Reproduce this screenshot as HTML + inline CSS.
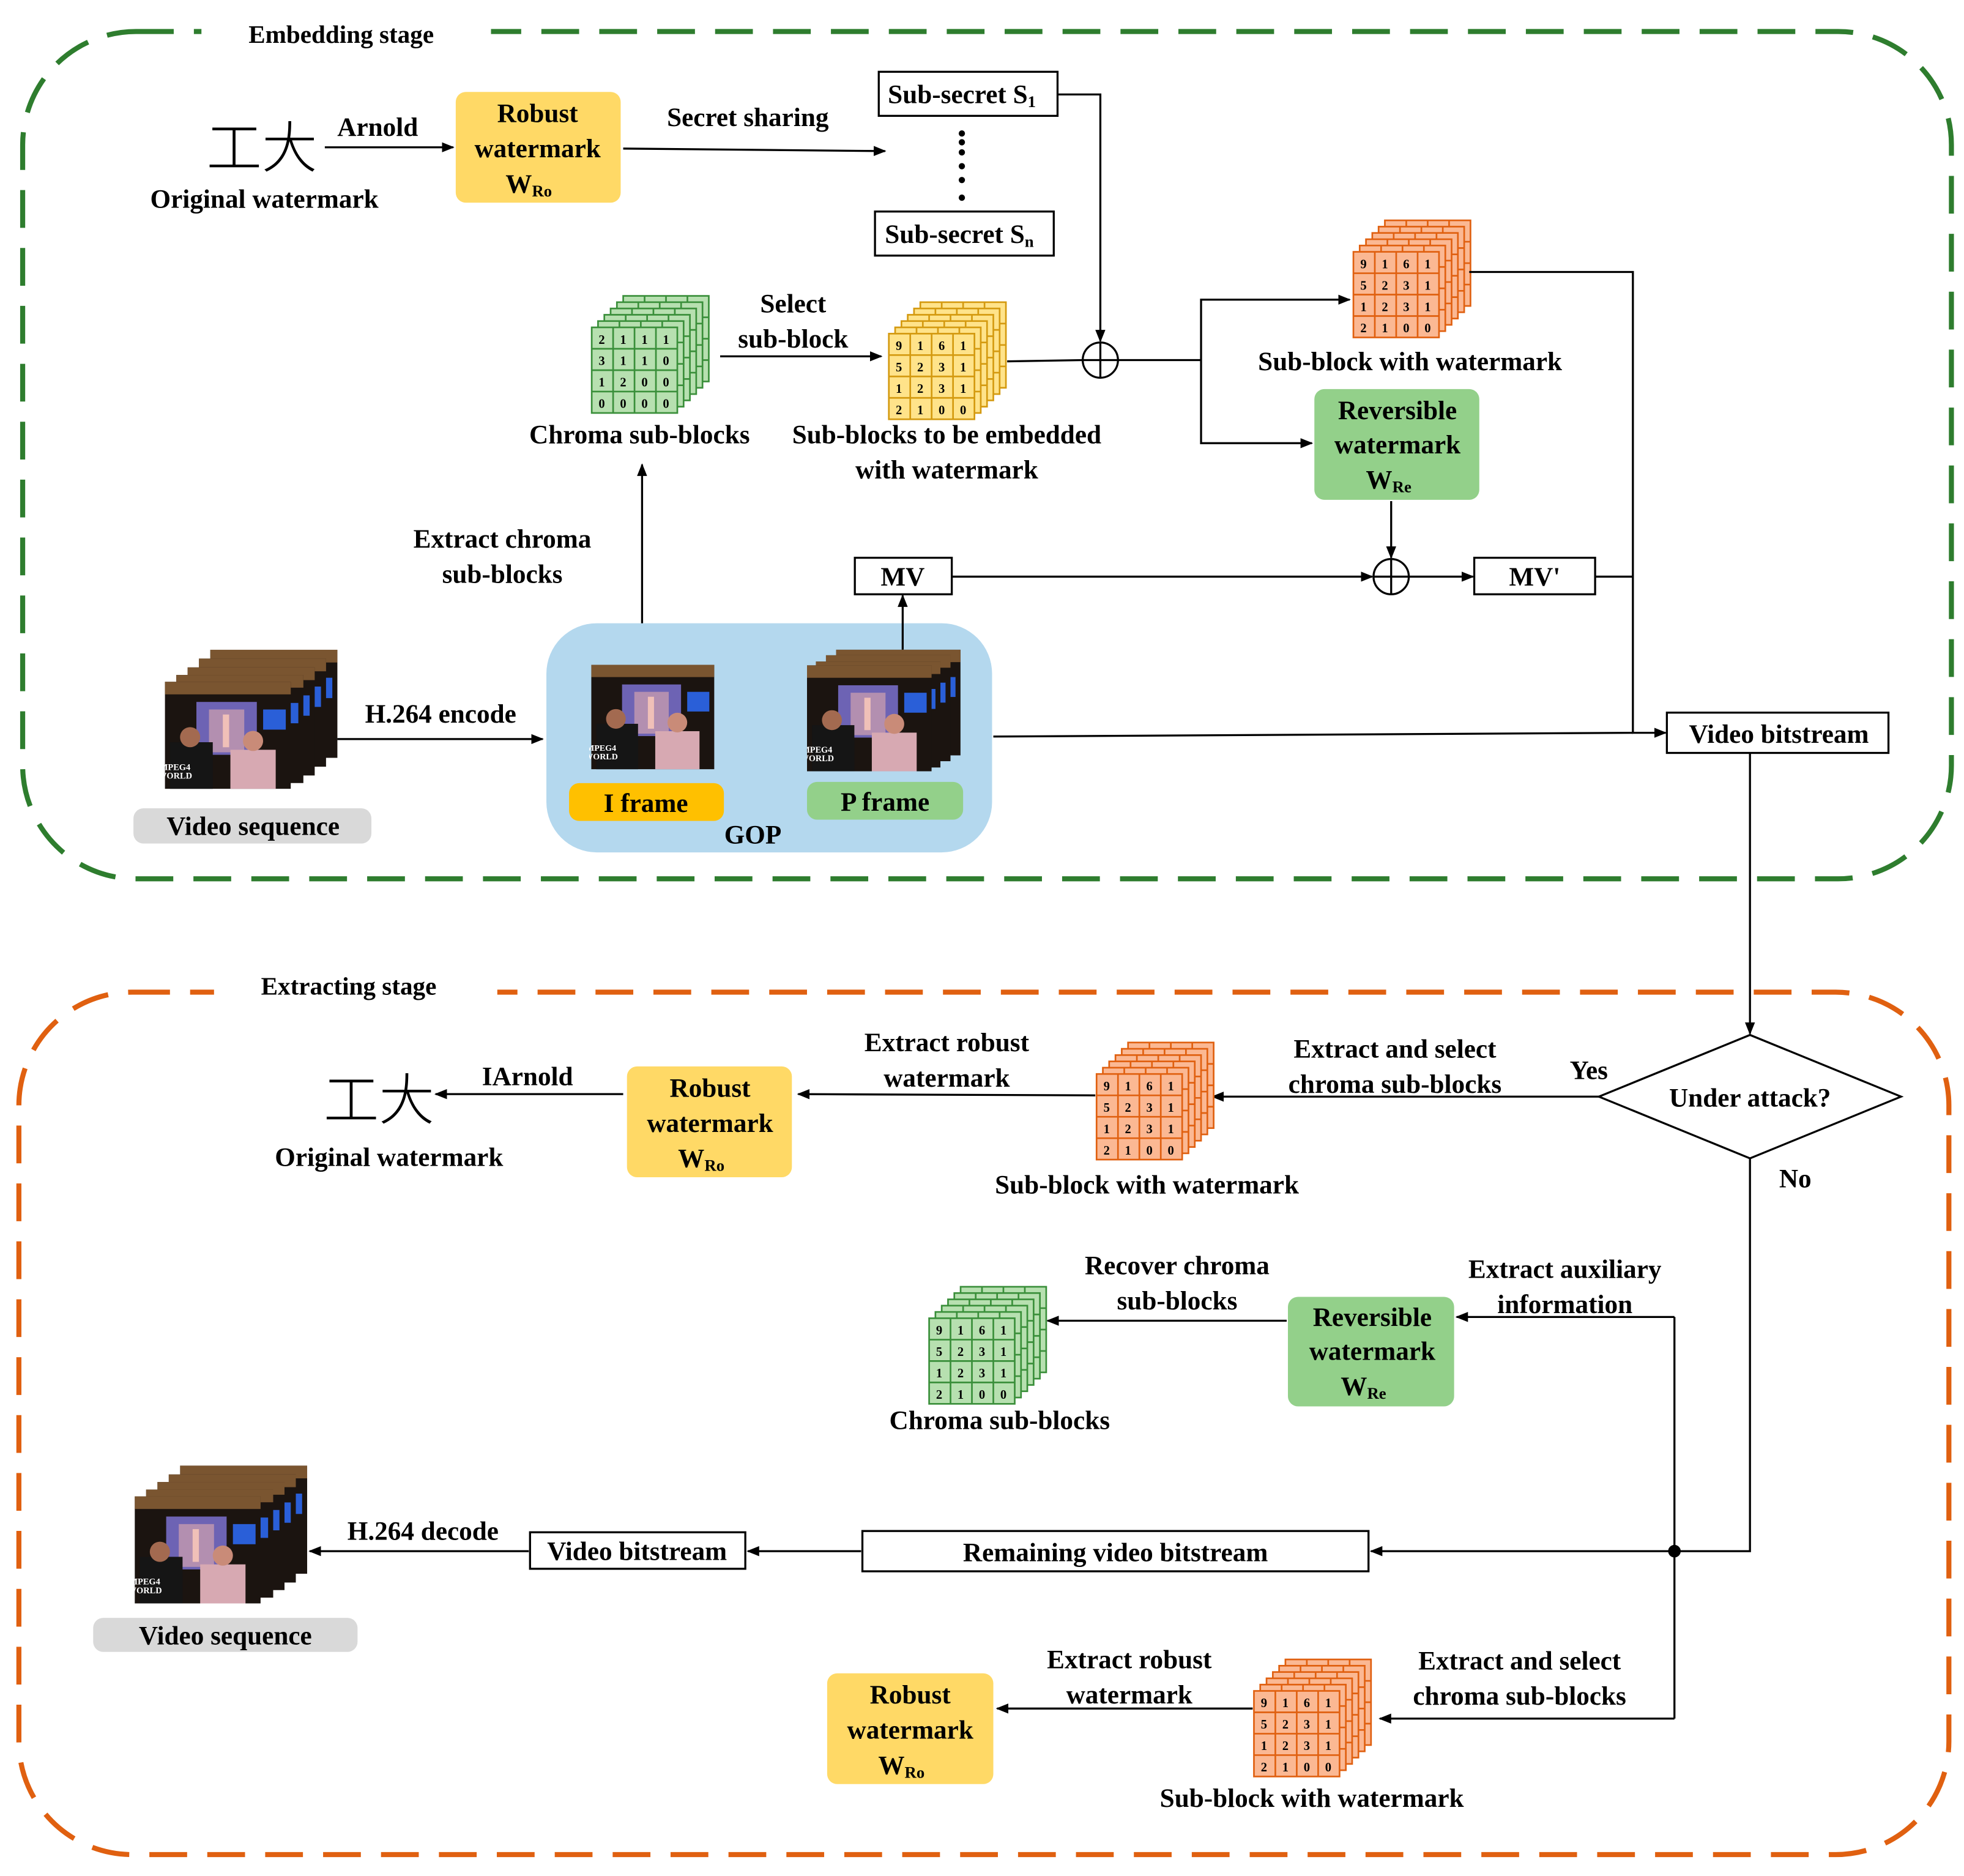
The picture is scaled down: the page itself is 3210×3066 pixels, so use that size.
<!DOCTYPE html>
<html><head><meta charset="utf-8"><style>
html,body{margin:0;padding:0;background:#fff}
svg{display:block}
text{font-family:"Liberation Serif","Noto Serif CJK SC",serif;font-weight:bold;fill:#000}
text.cjk{font-family:"Noto Sans CJK SC","WenQuanYi Zen Hei",sans-serif;font-weight:300}
</style></head><body>
<svg width="3210" height="3066" viewBox="0 0 1560 1490" xmlns="http://www.w3.org/2000/svg">
<defs>
<marker id="ar" markerWidth="10" markerHeight="8" refX="9" refY="4" orient="auto" markerUnits="userSpaceOnUse"><path d="M0,0 L10,4 L0,8 z" fill="#000"/></marker>
<g id="grid"><path d="M17,0V68M34,0V68M51,0V68M0,17H68M0,34H68M0,51H68" fill="none"/></g>
<symbol id="stk" viewBox="0 0 94 94" overflow="visible">
 <g stroke-width="1.3">
 <rect x="25" y="0" width="68" height="68"/><use href="#grid" x="25" y="0"/>
 <rect x="20" y="5" width="68" height="68"/><use href="#grid" x="20" y="5"/>
 <rect x="15" y="10" width="68" height="68"/><use href="#grid" x="15" y="10"/>
 <rect x="10" y="15" width="68" height="68"/><use href="#grid" x="10" y="15"/>
 <rect x="5" y="20" width="68" height="68"/><use href="#grid" x="5" y="20"/>
 <rect x="0" y="25" width="68" height="68"/><use href="#grid" x="0" y="25"/>
 </g>
</symbol>
<symbol id="fr" viewBox="0 0 100 85">
 <rect width="100" height="85" fill="#1b1410"/>
 <rect width="100" height="10" fill="#7a5530"/>
 <rect x="25" y="16" width="48" height="42" fill="#6d63b4"/>
 <rect x="35" y="22" width="28" height="34" fill="#b38fb0"/>
 <rect x="46" y="26" width="5" height="26" fill="#f0c0b8"/>
 <rect x="78" y="22" width="18" height="16" fill="#2a5fd8"/>
 <rect x="4" y="48" width="34" height="37" fill="#151515"/>
 <circle cx="20" cy="44" r="8" fill="#a36a50"/>
 <rect x="52" y="54" width="36" height="31" fill="#d7a9b2"/>
 <circle cx="70" cy="47" r="8" fill="#c98b78"/>
 <text x="8" y="70" font-size="7" style="fill:#fff">MPEG4</text>
 <text x="8" y="77" font-size="7" style="fill:#fff">WORLD</text>
</symbol>
</defs>

<rect x="18" y="25" width="1532" height="673" rx="90" fill="none" stroke="#2e7d2e" stroke-width="4" stroke-dasharray="30 16"/>
<rect x="160" y="10" width="230" height="30" fill="#fff"/>
<text x="271" y="34" font-size="20" text-anchor="middle">Embedding stage</text>
<rect x="15" y="788" width="1533" height="685" rx="90" fill="none" stroke="#e06010" stroke-width="4" stroke-dasharray="30 16"/>
<rect x="170" y="772" width="225" height="30" fill="#fff"/>
<text x="277" y="790" font-size="20" text-anchor="middle">Extracting stage</text>

<g font-size="21" text-anchor="middle">
<text class="cjk" x="208" y="133" font-size="44">工大</text>
<text x="210" y="165">Original watermark</text>
<line x1="258" y1="117" x2="360" y2="117" stroke="#000" stroke-width="1.6" marker-end="url(#ar)"/>
<text x="300" y="108">Arnold</text>
<rect x="362" y="73" width="131" height="88" rx="8" fill="#ffd966"/>
<text x="427" y="97">Robust</text><text x="427" y="125">watermark</text>
<text x="420" y="153">W<tspan font-size="13" dy="3">Ro</tspan></text>
<line x1="495" y1="118" x2="703" y2="120" stroke="#000" stroke-width="1.6" marker-end="url(#ar)"/>
<text x="594" y="100">Secret sharing</text>
<rect x="698" y="57" width="142" height="35" fill="#fff" stroke="#000" stroke-width="1.6"/>
<text x="764" y="82">Sub-secret S<tspan font-size="13" dy="3">1</tspan></text>
<g fill="#000"><circle cx="764" cy="143" r="2.5"/><circle cx="764" cy="157" r="2.5"/><circle cx="764" cy="132" r="2.5"/><circle cx="764" cy="121" r="2.5"/><circle cx="764" cy="106" r="2.5"/><circle cx="764" cy="113" r="2.5"/></g>
<rect x="695" y="168" width="142" height="35" fill="#fff" stroke="#000" stroke-width="1.6"/>
<text x="762" y="193">Sub-secret S<tspan font-size="13" dy="3">n</tspan></text>
<polyline points="840,75 874,75 874,271" fill="none" stroke="#000" stroke-width="1.6" marker-end="url(#ar)"/>
<circle cx="874" cy="286" r="14" fill="#fff" stroke="#000" stroke-width="1.6"/>
<path d="M860,286H888M874,272V300" stroke="#000" stroke-width="1.6"/>

<use href="#stk" x="470" y="235" width="94" height="94" fill="#b7e0b0" stroke="#3a8f3a"/>
<g font-size="10">
<text x="478" y="273">2</text><text x="495" y="273">1</text><text x="512" y="273">1</text><text x="529" y="273">1</text>
<text x="478" y="290">3</text><text x="495" y="290">1</text><text x="512" y="290">1</text><text x="529" y="290">0</text>
<text x="478" y="307">1</text><text x="495" y="307">2</text><text x="512" y="307">0</text><text x="529" y="307">0</text>
<text x="478" y="324">0</text><text x="495" y="324">0</text><text x="512" y="324">0</text><text x="529" y="324">0</text>
</g>
<text x="508" y="352">Chroma sub-blocks</text>
<line x1="572" y1="283" x2="700" y2="283" stroke="#000" stroke-width="1.6" marker-end="url(#ar)"/>
<text x="630" y="248">Select</text><text x="630" y="276">sub-block</text>

<use href="#stk" x="706" y="240" width="94" height="94" fill="#ffe38a" stroke="#d49a10"/>
<g font-size="10">
<text x="714" y="278">9</text><text x="731" y="278">1</text><text x="748" y="278">6</text><text x="765" y="278">1</text>
<text x="714" y="295">5</text><text x="731" y="295">2</text><text x="748" y="295">3</text><text x="765" y="295">1</text>
<text x="714" y="312">1</text><text x="731" y="312">2</text><text x="748" y="312">3</text><text x="765" y="312">1</text>
<text x="714" y="329">2</text><text x="731" y="329">1</text><text x="748" y="329">0</text><text x="765" y="329">0</text>
</g>
<text x="752" y="352">Sub-blocks to be embedded</text>
<text x="752" y="380">with watermark</text>
<line x1="800" y1="287" x2="860" y2="286" stroke="#000" stroke-width="1.6"/>
<polyline points="888,286 954,286" fill="none" stroke="#000" stroke-width="1.6"/>
<polyline points="954,286 954,238 1072,238" fill="none" stroke="#000" stroke-width="1.6" marker-end="url(#ar)"/>
<polyline points="954,286 954,352 1042,352" fill="none" stroke="#000" stroke-width="1.6" marker-end="url(#ar)"/>

<use href="#stk" x="1075" y="175" width="94" height="94" fill="#fbb893" stroke="#e06010"/>
<g font-size="10">
<text x="1083" y="213">9</text><text x="1100" y="213">1</text><text x="1117" y="213">6</text><text x="1134" y="213">1</text>
<text x="1083" y="230">5</text><text x="1100" y="230">2</text><text x="1117" y="230">3</text><text x="1134" y="230">1</text>
<text x="1083" y="247">1</text><text x="1100" y="247">2</text><text x="1117" y="247">3</text><text x="1134" y="247">1</text>
<text x="1083" y="264">2</text><text x="1100" y="264">1</text><text x="1117" y="264">0</text><text x="1134" y="264">0</text>
</g>
<text x="1120" y="294">Sub-block with watermark</text>

<rect x="1044" y="309" width="131" height="88" rx="8" fill="#93d08a"/>
<text x="1110" y="333">Reversible</text><text x="1110" y="360">watermark</text>
<text x="1103" y="388">W<tspan font-size="13" dy="3">Re</tspan></text>
<line x1="1105" y1="398" x2="1105" y2="443" stroke="#000" stroke-width="1.6" marker-end="url(#ar)"/>
<circle cx="1105" cy="458" r="14" fill="#fff" stroke="#000" stroke-width="1.6"/>
<path d="M1091,458H1119M1105,444V472" stroke="#000" stroke-width="1.6"/>
<rect x="679" y="443" width="77" height="29" fill="#fff" stroke="#000" stroke-width="1.6"/>
<text x="717" y="465">MV</text>
<line x1="756" y1="458" x2="1090" y2="458" stroke="#000" stroke-width="1.6" marker-end="url(#ar)"/>
<line x1="1119" y1="458" x2="1170" y2="458" stroke="#000" stroke-width="1.6" marker-end="url(#ar)"/>
<rect x="1171" y="443" width="96" height="29" fill="#fff" stroke="#000" stroke-width="1.6"/>
<text x="1219" y="465">MV'</text>
<polyline points="1167,216 1297,216 1297,582" fill="none" stroke="#000" stroke-width="1.6"/>
<line x1="1267" y1="458" x2="1297" y2="458" stroke="#000" stroke-width="1.6"/>
<line x1="1297" y1="582" x2="1323" y2="582" stroke="#000" stroke-width="1.6" marker-end="url(#ar)"/>
<rect x="1324" y="566" width="176" height="32" fill="#fff" stroke="#000" stroke-width="1.6"/>
<text x="1413" y="590">Video bitstream</text>

<line x1="510" y1="528" x2="510" y2="369" stroke="#000" stroke-width="1.6" marker-end="url(#ar)"/>
<text x="399" y="435">Extract chroma</text><text x="399" y="463">sub-blocks</text>

<rect x="434" y="495" width="354" height="182" rx="40" fill="#b4d8ee"/>
<use href="#fr" x="468" y="528" width="101" height="83"/>
<use href="#fr" x="664" y="516" width="99" height="84"/>
<use href="#fr" x="656" y="520" width="99" height="85"/>
<use href="#fr" x="648" y="524" width="99" height="87"/>
<use href="#fr" x="641" y="528" width="99" height="85"/>
<rect x="452" y="622" width="123" height="30" rx="8" fill="#ffc000"/>
<text x="513" y="645">I frame</text>
<rect x="641" y="621" width="124" height="30" rx="8" fill="#93d08a"/>
<text x="703" y="644">P frame</text>
<text x="598" y="670">GOP</text>
<line x1="717" y1="516" x2="717" y2="473" stroke="#000" stroke-width="1.6" marker-end="url(#ar)"/>
<line x1="789" y1="585" x2="1297" y2="582" stroke="#000" stroke-width="1.6"/>

<use href="#fr" x="167" y="516" width="101" height="86"/>
<use href="#fr" x="158" y="522" width="101" height="88"/>
<use href="#fr" x="149" y="528" width="101" height="90"/>
<use href="#fr" x="140" y="534" width="101" height="90"/>
<use href="#fr" x="131" y="540" width="100" height="88"/>
<rect x="106" y="642" width="189" height="28" rx="8" fill="#d9d9d9"/>
<text x="201" y="663">Video sequence</text>
<line x1="268" y1="587" x2="431" y2="587" stroke="#000" stroke-width="1.6" marker-end="url(#ar)"/>
<text x="350" y="574">H.264 encode</text>
<line x1="1390" y1="598" x2="1390" y2="821" stroke="#000" stroke-width="1.6" marker-end="url(#ar)"/>

<polygon points="1390,822 1510,871 1390,920 1270,871" fill="#fff" stroke="#000" stroke-width="1.6"/>
<text x="1390" y="879">Under attack?</text>
<text x="1262" y="857">Yes</text>
<text x="1426" y="943">No</text>
<line x1="1270" y1="871" x2="963" y2="871" stroke="#000" stroke-width="1.6" marker-end="url(#ar)"/>
<text x="1108" y="840">Extract and select</text><text x="1108" y="868">chroma sub-blocks</text>

<use href="#stk" x="871" y="828" width="94" height="94" fill="#fbb893" stroke="#e06010"/>
<g font-size="10">
<text x="879" y="866">9</text><text x="896" y="866">1</text><text x="913" y="866">6</text><text x="930" y="866">1</text>
<text x="879" y="883">5</text><text x="896" y="883">2</text><text x="913" y="883">3</text><text x="930" y="883">1</text>
<text x="879" y="900">1</text><text x="896" y="900">2</text><text x="913" y="900">3</text><text x="930" y="900">1</text>
<text x="879" y="917">2</text><text x="896" y="917">1</text><text x="913" y="917">0</text><text x="930" y="917">0</text>
</g>
<text x="911" y="948">Sub-block with watermark</text>
<line x1="870" y1="870" x2="634" y2="869" stroke="#000" stroke-width="1.6" marker-end="url(#ar)"/>
<text x="752" y="835">Extract robust</text><text x="752" y="863">watermark</text>
<rect x="498" y="847" width="131" height="88" rx="8" fill="#ffd966"/>
<text x="564" y="871">Robust</text><text x="564" y="899">watermark</text>
<text x="557" y="927">W<tspan font-size="13" dy="3">Ro</tspan></text>
<line x1="495" y1="869" x2="346" y2="869" stroke="#000" stroke-width="1.6" marker-end="url(#ar)"/>
<text x="419" y="862">IArnold</text>
<text class="cjk" x="301" y="889" font-size="44">工大</text>
<text x="309" y="926">Original watermark</text>

<polyline points="1390,920 1390,1232 1330,1232" fill="none" stroke="#000" stroke-width="1.6"/>
<line x1="1330" y1="1046" x2="1330" y2="1365" stroke="#000" stroke-width="1.6"/>
<circle cx="1330" cy="1232" r="5" fill="#000"/>
<line x1="1330" y1="1046" x2="1157" y2="1046" stroke="#000" stroke-width="1.6" marker-end="url(#ar)"/>
<text x="1243" y="1015">Extract auxiliary</text><text x="1243" y="1043">information</text>
<rect x="1023" y="1030" width="132" height="87" rx="8" fill="#93d08a"/>
<text x="1090" y="1053">Reversible</text><text x="1090" y="1080">watermark</text>
<text x="1083" y="1108">W<tspan font-size="13" dy="3">Re</tspan></text>
<line x1="1022" y1="1049" x2="832" y2="1049" stroke="#000" stroke-width="1.6" marker-end="url(#ar)"/>
<text x="935" y="1012">Recover chroma</text><text x="935" y="1040">sub-blocks</text>

<use href="#stk" x="738" y="1022" width="94" height="94" fill="#b7e0b0" stroke="#3a8f3a"/>
<g font-size="10">
<text x="746" y="1060">9</text><text x="763" y="1060">1</text><text x="780" y="1060">6</text><text x="797" y="1060">1</text>
<text x="746" y="1077">5</text><text x="763" y="1077">2</text><text x="780" y="1077">3</text><text x="797" y="1077">1</text>
<text x="746" y="1094">1</text><text x="763" y="1094">2</text><text x="780" y="1094">3</text><text x="797" y="1094">1</text>
<text x="746" y="1111">2</text><text x="763" y="1111">1</text><text x="780" y="1111">0</text><text x="797" y="1111">0</text>
</g>
<text x="794" y="1135">Chroma sub-blocks</text>

<line x1="1330" y1="1232" x2="1089" y2="1232" stroke="#000" stroke-width="1.6" marker-end="url(#ar)"/>
<rect x="685" y="1216" width="402" height="32" fill="#fff" stroke="#000" stroke-width="1.6"/>
<text x="886" y="1240">Remaining video bitstream</text>
<line x1="684" y1="1232" x2="594" y2="1232" stroke="#000" stroke-width="1.6" marker-end="url(#ar)"/>
<rect x="421" y="1217" width="171" height="29" fill="#fff" stroke="#000" stroke-width="1.6"/>
<text x="506" y="1239">Video bitstream</text>
<line x1="420" y1="1232" x2="246" y2="1232" stroke="#000" stroke-width="1.6" marker-end="url(#ar)"/>
<text x="336" y="1223">H.264 decode</text>
<use href="#fr" x="143" y="1164" width="101" height="86"/>
<use href="#fr" x="134" y="1170" width="101" height="88"/>
<use href="#fr" x="125" y="1176" width="101" height="88"/>
<use href="#fr" x="116" y="1182" width="101" height="88"/>
<use href="#fr" x="107" y="1188" width="100" height="86"/>
<rect x="74" y="1285" width="210" height="27" rx="8" fill="#d9d9d9"/>
<text x="179" y="1306">Video sequence</text>

<line x1="1330" y1="1365" x2="1096" y2="1365" stroke="#000" stroke-width="1.6" marker-end="url(#ar)"/>
<text x="1207" y="1326">Extract and select</text><text x="1207" y="1354">chroma sub-blocks</text>
<use href="#stk" x="996" y="1318" width="94" height="94" fill="#fbb893" stroke="#e06010"/>
<g font-size="10">
<text x="1004" y="1356">9</text><text x="1021" y="1356">1</text><text x="1038" y="1356">6</text><text x="1055" y="1356">1</text>
<text x="1004" y="1373">5</text><text x="1021" y="1373">2</text><text x="1038" y="1373">3</text><text x="1055" y="1373">1</text>
<text x="1004" y="1390">1</text><text x="1021" y="1390">2</text><text x="1038" y="1390">3</text><text x="1055" y="1390">1</text>
<text x="1004" y="1407">2</text><text x="1021" y="1407">1</text><text x="1038" y="1407">0</text><text x="1055" y="1407">0</text>
</g>
<text x="1042" y="1435">Sub-block with watermark</text>
<line x1="995" y1="1357" x2="792" y2="1357" stroke="#000" stroke-width="1.6" marker-end="url(#ar)"/>
<text x="897" y="1325">Extract robust</text><text x="897" y="1353">watermark</text>
<rect x="657" y="1329" width="132" height="88" rx="8" fill="#ffd966"/>
<text x="723" y="1353">Robust</text><text x="723" y="1381">watermark</text>
<text x="716" y="1409">W<tspan font-size="13" dy="3">Ro</tspan></text>
</g>
</svg>
</body></html>
